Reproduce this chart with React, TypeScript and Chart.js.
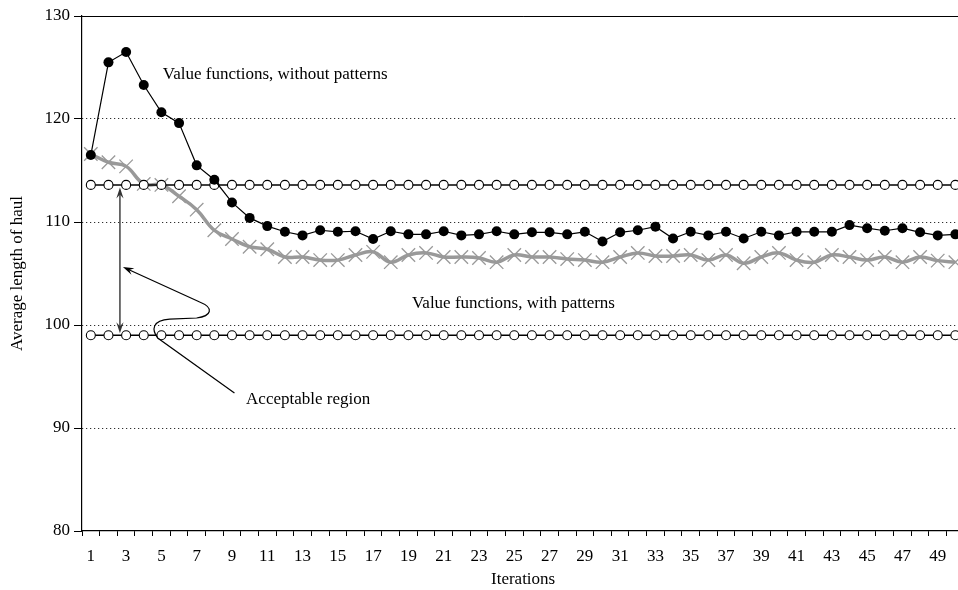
import React, { useEffect, useRef } from "react";
import { Chart, registerables } from "chart.js";

Chart.register(...registerables);

const iterations = ["1","2","3","4","5","6","7","8","9","10","11","12","13","14","15","16","17","18","19","20","21","22","23","24","25","26","27","28","29","30","31","32","33","34","35","36","37","38","39","40","41","42","43","44","45","46","47","48","49","50"];

const withoutPatterns = [116.5,125.5,126.5,123.3,120.65,119.6,115.5,114.1,111.9,110.4,109.6,109.05,108.7,109.2,109.05,109.1,108.35,109.1,108.8,108.8,109.1,108.7,108.8,109.1,108.8,109.0,109.0,108.8,109.05,108.1,109.0,109.2,109.55,108.4,109.05,108.7,109.05,108.4,109.05,108.7,109.05,109.05,109.05,109.7,109.4,109.15,109.4,109.0,108.7,108.8];

const withPatterns = [116.6,115.8,115.4,113.7,113.6,112.5,111.2,109.2,108.35,107.6,107.35,106.6,106.6,106.3,106.3,106.8,107.1,106.1,106.8,107.0,106.6,106.6,106.5,106.1,106.8,106.6,106.6,106.4,106.3,106.1,106.6,107.0,106.7,106.7,106.8,106.3,106.8,106.0,106.6,107.0,106.3,106.1,106.8,106.6,106.3,106.6,106.1,106.6,106.25,106.1];

const upperBound = [113.6,113.6,113.6,113.6,113.6,113.6,113.6,113.6,113.6,113.6,113.6,113.6,113.6,113.6,113.6,113.6,113.6,113.6,113.6,113.6,113.6,113.6,113.6,113.6,113.6,113.6,113.6,113.6,113.6,113.6,113.6,113.6,113.6,113.6,113.6,113.6,113.6,113.6,113.6,113.6,113.6,113.6,113.6,113.6,113.6,113.6,113.6,113.6,113.6,113.6];

const lowerBound = [99,99,99,99,99,99,99,99,99,99,99,99,99,99,99,99,99,99,99,99,99,99,99,99,99,99,99,99,99,99,99,99,99,99,99,99,99,99,99,99,99,99,99,99,99,99,99,99,99,99];

const yTicks = [80, 90, 100, 110, 120, 130];

// annotation anchors in data units: [iteration (1-based, fractional), value]
const labelWithout: [number, number] = [5.08, 123.85];
const labelWith: [number, number] = [19.2, 101.65];
const labelRegion: [number, number] = [9.8, 92.33];
const regionArrowX = 2.65;
const regionArrowTop = 113.35;
const regionArrowBottom = 99.2;
const pointerPath: [number, number][] = [
  [9.14, 93.4], [4.79, 98.74],
  [4.45, 99.51], [4.45, 100.49], [5.47, 100.58],
  [6.997, 100.68],
  [7.84, 100.87], [8.01, 101.65], [7.17, 102.23],
  [2.82, 105.63],
];

const FONT = "'Liberation Serif', 'Times New Roman', serif";

function arrowHead(ctx: CanvasRenderingContext2D, tx: number, ty: number, angle: number, color: string) {
  const len = 11;
  const half = 3.6;
  const notch = 7;
  ctx.save();
  ctx.translate(tx, ty);
  ctx.rotate(angle);
  ctx.beginPath();
  ctx.moveTo(0, 0);
  ctx.lineTo(-len, -half);
  ctx.lineTo(-notch, 0);
  ctx.lineTo(-len, half);
  ctx.closePath();
  ctx.fillStyle = color;
  ctx.fill();
  ctx.restore();
}

const annotationPlugin = {
  id: "annotations",
  afterDatasetsDraw(chart: any) {
    const ctx: CanvasRenderingContext2D = chart.ctx;
    const xs = chart.scales.x;
    const ys = chart.scales.y;
    const px = (i: number) => xs.getPixelForValue(i - 1);
    const py = (v: number) => ys.getPixelForValue(v);

    ctx.save();
    // vertical double arrow
    const ax = px(regionArrowX);
    const at = py(regionArrowTop);
    const ab = py(regionArrowBottom);
    ctx.strokeStyle = "#333";
    ctx.lineWidth = 1.4;
    ctx.beginPath();
    ctx.moveTo(ax, at + 6);
    ctx.lineTo(ax, ab - 6);
    ctx.stroke();
    arrowHead(ctx, ax, at, -Math.PI / 2, "#333");
    arrowHead(ctx, ax, ab, Math.PI / 2, "#333");

    // curved pointer
    const p = pointerPath.map(([i, v]) => [px(i), py(v)]);
    ctx.strokeStyle = "#000";
    ctx.lineWidth = 1.2;
    ctx.beginPath();
    ctx.moveTo(p[0][0], p[0][1]);
    ctx.lineTo(p[1][0], p[1][1]);
    ctx.bezierCurveTo(p[2][0], p[2][1], p[3][0], p[3][1], p[4][0], p[4][1]);
    ctx.lineTo(p[5][0], p[5][1]);
    ctx.bezierCurveTo(p[6][0], p[6][1], p[7][0], p[7][1], p[8][0], p[8][1]);
    const tip = p[9];
    const prev = p[8];
    const ang = Math.atan2(tip[1] - prev[1], tip[0] - prev[0]);
    ctx.lineTo(tip[0] - Math.cos(ang) * 6, tip[1] - Math.sin(ang) * 6);
    ctx.stroke();
    arrowHead(ctx, tip[0], tip[1], ang, "#000");

    // text labels
    ctx.fillStyle = "#000";
    ctx.font = `17px ${FONT}`;
    ctx.textAlign = "left";
    ctx.textBaseline = "alphabetic";
    ctx.fillText("Value functions, without patterns", px(labelWithout[0]), py(labelWithout[1]));
    ctx.fillText("Value functions, with patterns", px(labelWith[0]), py(labelWith[1]));
    ctx.fillText("Acceptable region", px(labelRegion[0]), py(labelRegion[1]));
    ctx.restore();
  },
  afterDraw(chart: any) {
    const ctx: CanvasRenderingContext2D = chart.ctx;
    const a = chart.chartArea;
    ctx.save();
    ctx.strokeStyle = "#000";
    ctx.lineWidth = 1;
    ctx.beginPath();
    ctx.moveTo(a.left, a.top + 0.5);
    ctx.lineTo(a.right, a.top + 0.5);
    ctx.moveTo(a.right - 0.5, a.top);
    ctx.lineTo(a.right - 0.5, a.bottom);
    ctx.stroke();
    ctx.restore();
  },
};

export default function App() {
  const ref = useRef<HTMLCanvasElement | null>(null);

  useEffect(() => {
    if (!ref.current) return;
    const chart = new Chart(ref.current, {
      type: "line",
      data: {
        labels: iterations,
        datasets: [
          {
            label: "Value functions, without patterns",
            data: withoutPatterns,
            borderColor: "#000",
            borderWidth: 1.2,
            pointRadius: 5,
            pointBackgroundColor: "#000",
            pointBorderColor: "#000",
            pointBorderWidth: 0,
            tension: 0,
          },
          {
            label: "Upper bound",
            data: upperBound,
            borderColor: "#000",
            borderWidth: 1.5,
            pointRadius: 4.5,
            pointBackgroundColor: "#fff",
            pointBorderColor: "#000",
            pointBorderWidth: 1.1,
            tension: 0,
          },
          {
            label: "Lower bound",
            data: lowerBound,
            borderColor: "#000",
            borderWidth: 1.5,
            pointRadius: 4.5,
            pointBackgroundColor: "#fff",
            pointBorderColor: "#000",
            pointBorderWidth: 1.1,
            tension: 0,
          },
          {
            label: "Value functions, with patterns",
            data: withPatterns,
            borderColor: "#999",
            borderWidth: 3.5,
            pointStyle: "crossRot",
            pointRadius: 9.5,
            pointBorderColor: "#999",
            pointBorderWidth: 1.3,
            tension: 0.4,
          },
        ],
      },
      options: {
        animation: false,
        responsive: true,
        maintainAspectRatio: false,
        layout: { padding: { top: 16, right: 8, bottom: 0, left: 0 } },
        plugins: {
          legend: { display: false },
          tooltip: { enabled: false },
        },
        elements: { point: { hoverRadius: 0 } },
        scales: {
          x: {
            type: "category",
            offset: true,
            grid: {
              offset: true,
              drawOnChartArea: false,
              drawTicks: true,
              tickLength: 5,
              tickColor: "#000",
              tickWidth: 1,
              color: "#000",
            },
            border: { display: true, color: "#000", width: 1.2 },
            ticks: {
              autoSkip: false,
              maxRotation: 0,
              padding: 10,
              color: "#000",
              font: { family: FONT, size: 17 },
              callback: (_v: any, idx: number) => (idx % 2 === 0 ? iterations[idx] : ""),
            },
            title: {
              display: true,
              text: "Iterations",
              color: "#000",
              font: { family: FONT, size: 17 },
              padding: { top: 0, bottom: 0 },
            },
            afterFit: (s: any) => { s.height = 59; },
          },
          y: {
            min: yTicks[0],
            max: yTicks[yTicks.length - 1],
            afterBuildTicks: (s: any) => { s.ticks = yTicks.map((v) => ({ value: v })); },
            grid: {
              color: (c: any) => (c.tick && (c.tick.value === 80 || c.tick.value === 130) ? "rgba(0,0,0,0)" : "#000"),
              lineWidth: 1,
              drawTicks: true,
              tickLength: 8,
              tickColor: "#000",
              tickWidth: 1,
              tickBorderDash: [],
            },
            border: { display: true, color: "#000", width: 1.2, dash: [1, 3] },
            ticks: {
              padding: 4,
              color: "#000",
              font: { family: FONT, size: 17 },
            },
            title: {
              display: true,
              text: "Average length of haul",
              color: "#000",
              font: { family: FONT, size: 17 },
              padding: { top: 7, bottom: 0 },
            },
            afterFit: (s: any) => { s.width = 82; },
          },
        },
      },
      plugins: [annotationPlugin],
    });
    return () => chart.destroy();
  }, []);

  return (
    <div style={{ position: "fixed", left: 0, top: 0, width: 958, height: 590, overflow: "hidden", background: "#fff" }}>
      <div style={{ position: "relative", width: 975, height: 590 }}>
        <canvas ref={ref} />
      </div>
    </div>
  );
}
